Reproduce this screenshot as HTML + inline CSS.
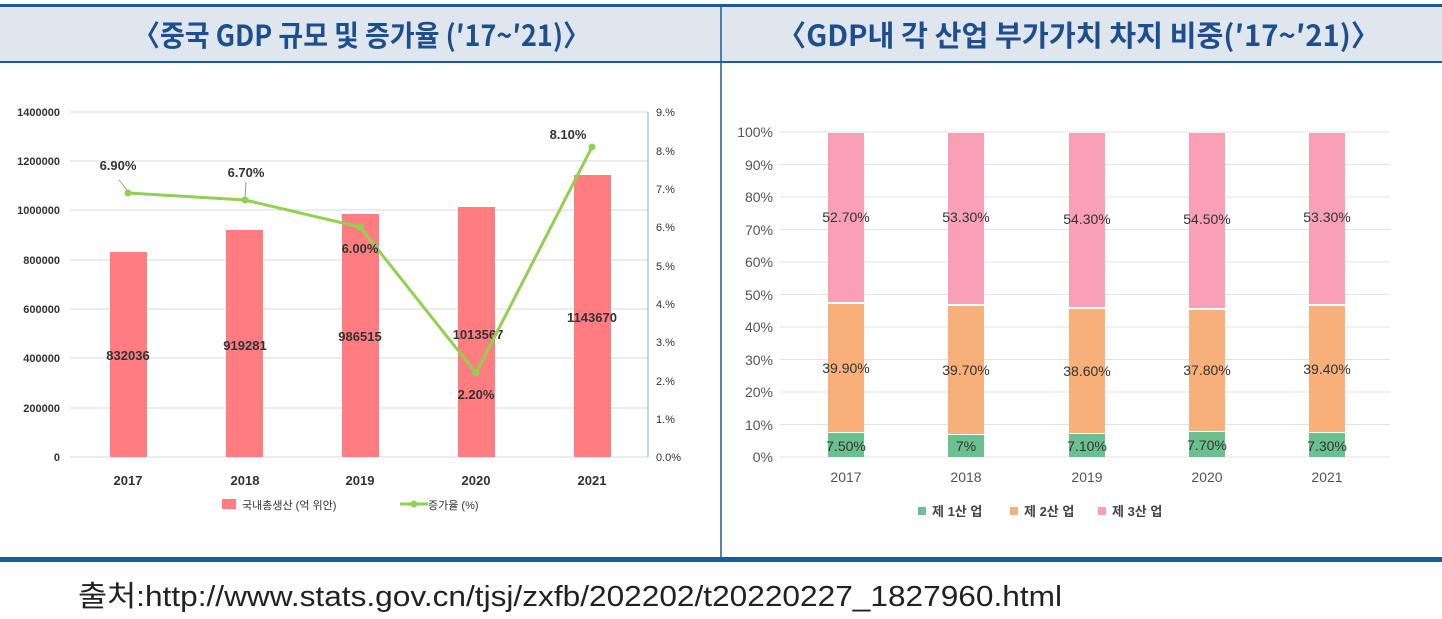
<!DOCTYPE html>
<html><head><meta charset="utf-8"><style>
body{margin:0;width:1442px;height:614px;background:#fff;overflow:hidden;font-family:"Liberation Sans","Noto Sans CJK KR",sans-serif;}
</style></head><body>
<svg width="1442" height="614" xmlns="http://www.w3.org/2000/svg" font-family="Liberation Sans, Noto Sans CJK KR, sans-serif">
<rect x="0" y="7" width="1442" height="55" fill="#dfe6ee"/>
<rect x="0" y="4" width="1442" height="3" fill="#1f5a96"/>
<rect x="0" y="61" width="1442" height="2" fill="#1f5a96"/>
<line x1="721" y1="7" x2="721" y2="558" stroke="#1f5a96" stroke-width="1.5"/>
<rect x="0" y="557" width="1442" height="5" fill="#1f5a96"/>
<text x="133" y="46" textLength="457" lengthAdjust="spacingAndGlyphs" font-size="29" font-weight="bold" fill="#1f4e8c" font-family="Noto Sans CJK KR, sans-serif">〈중국 GDP 규모 및 증가율 (′17~′21)〉</text>
<text x="777" y="46" textLength="603" lengthAdjust="spacingAndGlyphs" font-size="29" font-weight="bold" fill="#1f4e8c" font-family="Noto Sans CJK KR, sans-serif">〈GDP내 각 산업 부가가치 차지 비중(′17~′21)〉</text>
<text x="78" y="606" textLength="984" lengthAdjust="spacingAndGlyphs" font-size="29" fill="#222">출처:http://www.stats.gov.cn/tjsj/zxfb/202202/t20220227_1827960.html</text>

<!-- left chart -->
<g font-size="12" fill="#333" font-weight="bold">
<g stroke="#d9d9d9" stroke-width="1">
<line x1="70" y1="112" x2="648" y2="112"/><line x1="70" y1="161" x2="648" y2="161"/><line x1="70" y1="210" x2="648" y2="210"/><line x1="70" y1="260" x2="648" y2="260"/><line x1="70" y1="309" x2="648" y2="309"/><line x1="70" y1="358" x2="648" y2="358"/><line x1="70" y1="408" x2="648" y2="408"/><line x1="70" y1="457" x2="648" y2="457"/>
</g>
<line x1="648" y1="112" x2="648" y2="457" stroke="#9ab" />
<g text-anchor="end" font-size="11">
<text x="60" y="116">1400000</text><text x="60" y="165">1200000</text><text x="60" y="214">1000000</text><text x="60" y="264">800000</text><text x="60" y="313">600000</text><text x="60" y="362">400000</text><text x="60" y="412">200000</text><text x="60" y="461">0</text>
</g>
<g font-weight="normal" font-size="11">
<text x="656" y="116">9.%</text><text x="656" y="155">8.%</text><text x="656" y="193">7.%</text><text x="656" y="231">6.%</text><text x="656" y="270">5.%</text><text x="656" y="308">4.%</text><text x="656" y="346">3.%</text><text x="656" y="385">2.%</text><text x="656" y="423">1.%</text><text x="656" y="461">0.0%</text>
</g>
<g fill="#ff7c80">
<rect x="110" y="252" width="37" height="205"/><rect x="226" y="230" width="37" height="227"/><rect x="342" y="214" width="37" height="243"/><rect x="458" y="207" width="37" height="250"/><rect x="574" y="175" width="37" height="282"/>
</g>
<g text-anchor="middle" font-size="13">
<text x="128" y="360">832036</text><text x="245" y="350">919281</text><text x="360" y="341">986515</text><text x="478" y="339">1013567</text><text x="592" y="322">1143670</text>
<text x="128" y="485">2017</text><text x="245" y="485">2018</text><text x="360" y="485">2019</text><text x="476" y="485">2020</text><text x="592" y="485">2021</text>
</g>
<polyline points="128,193 245,200 360,227 476,373 592,147" fill="none" stroke="#92d050" stroke-width="3"/>
<g fill="#92d050"><circle cx="128" cy="193" r="3.5"/><circle cx="245" cy="200" r="3.5"/><circle cx="360" cy="227" r="3.5"/><circle cx="476" cy="373" r="3.5"/><circle cx="592" cy="147" r="3.5"/></g>
<line x1="119" y1="180" x2="127" y2="190" stroke="#999"/>
<line x1="246" y1="182" x2="245" y2="197" stroke="#999"/>
<g text-anchor="middle" font-size="13">
<text x="118" y="170">6.90%</text><text x="246" y="177">6.70%</text><text x="360" y="253">6.00%</text><text x="476" y="399">2.20%</text><text x="568" y="139">8.10%</text>
</g>
<rect x="222" y="499" width="14" height="10" fill="#ff7c80"/>
<text x="242" y="509" font-size="11" font-weight="normal">국내총생산 (억 위안)</text>
<line x1="400" y1="504" x2="428" y2="504" stroke="#92d050" stroke-width="3"/>
<circle cx="414" cy="504" r="3.5" fill="#92d050"/>
<text x="428" y="509" font-size="11" font-weight="normal">증가율 (%)</text>
</g>

<!-- right chart -->
<g font-size="14" fill="#555">
<g stroke="#e3e3e3">
<line x1="780" y1="132" x2="1390" y2="132"/><line x1="780" y1="164.5" x2="1390" y2="164.5"/><line x1="780" y1="197" x2="1390" y2="197"/><line x1="780" y1="229.5" x2="1390" y2="229.5"/><line x1="780" y1="262" x2="1390" y2="262"/><line x1="780" y1="294.5" x2="1390" y2="294.5"/><line x1="780" y1="327" x2="1390" y2="327"/><line x1="780" y1="359.5" x2="1390" y2="359.5"/><line x1="780" y1="392" x2="1390" y2="392"/><line x1="780" y1="424.5" x2="1390" y2="424.5"/><line x1="780" y1="457" x2="1390" y2="457"/>
</g>
<g text-anchor="end">
<text x="773" y="137">100%</text><text x="773" y="170">90%</text><text x="773" y="202">80%</text><text x="773" y="235">70%</text><text x="773" y="267">60%</text><text x="773" y="300">50%</text><text x="773" y="332">40%</text><text x="773" y="365">30%</text><text x="773" y="397">20%</text><text x="773" y="430">10%</text><text x="773" y="462">0%</text>
</g>
<g>
<rect x="828" y="433" width="36" height="24" fill="#6cc090"/><rect x="828" y="304" width="36" height="128" fill="#f8b07a"/><rect x="828" y="133" width="36" height="169" fill="#f9a0b8"/>
<rect x="948" y="435" width="36" height="22" fill="#6cc090"/><rect x="948" y="306" width="36" height="128" fill="#f8b07a"/><rect x="948" y="133" width="36" height="171" fill="#f9a0b8"/>
<rect x="1069" y="434" width="36" height="23" fill="#6cc090"/><rect x="1069" y="309" width="36" height="124" fill="#f8b07a"/><rect x="1069" y="133" width="36" height="174" fill="#f9a0b8"/>
<rect x="1189" y="432" width="36" height="25" fill="#6cc090"/><rect x="1189" y="310" width="36" height="121" fill="#f8b07a"/><rect x="1189" y="133" width="36" height="175" fill="#f9a0b8"/>
<rect x="1309" y="433" width="36" height="24" fill="#6cc090"/><rect x="1309" y="306" width="36" height="126" fill="#f8b07a"/><rect x="1309" y="133" width="36" height="171" fill="#f9a0b8"/>
</g>
<g text-anchor="middle" fill="#333" font-size="14">
<text x="846" y="222">52.70%</text><text x="966" y="222">53.30%</text><text x="1087" y="224">54.30%</text><text x="1207" y="224">54.50%</text><text x="1327" y="222">53.30%</text>
<text x="846" y="373">39.90%</text><text x="966" y="375">39.70%</text><text x="1087" y="376">38.60%</text><text x="1207" y="375">37.80%</text><text x="1327" y="374">39.40%</text>
<text x="846" y="451">7.50%</text><text x="966" y="451">7%</text><text x="1087" y="451">7.10%</text><text x="1207" y="450">7.70%</text><text x="1327" y="451">7.30%</text>
</g>
<g text-anchor="middle" font-size="14">
<text x="846" y="482">2017</text><text x="966" y="482">2018</text><text x="1087" y="482">2019</text><text x="1207" y="482">2020</text><text x="1327" y="482">2021</text>
</g>
<rect x="918" y="507" width="8" height="8" fill="#6cc090"/><text x="932" y="516" font-size="13" font-weight="bold" fill="#444">제 1산 업</text>
<rect x="1010" y="507" width="8" height="8" fill="#f8b07a"/><text x="1024" y="516" font-size="13" font-weight="bold" fill="#444">제 2산 업</text>
<rect x="1098" y="507" width="8" height="8" fill="#f9a0b8"/><text x="1112" y="516" font-size="13" font-weight="bold" fill="#444">제 3산 업</text>
</g>
</svg>
</body></html>
